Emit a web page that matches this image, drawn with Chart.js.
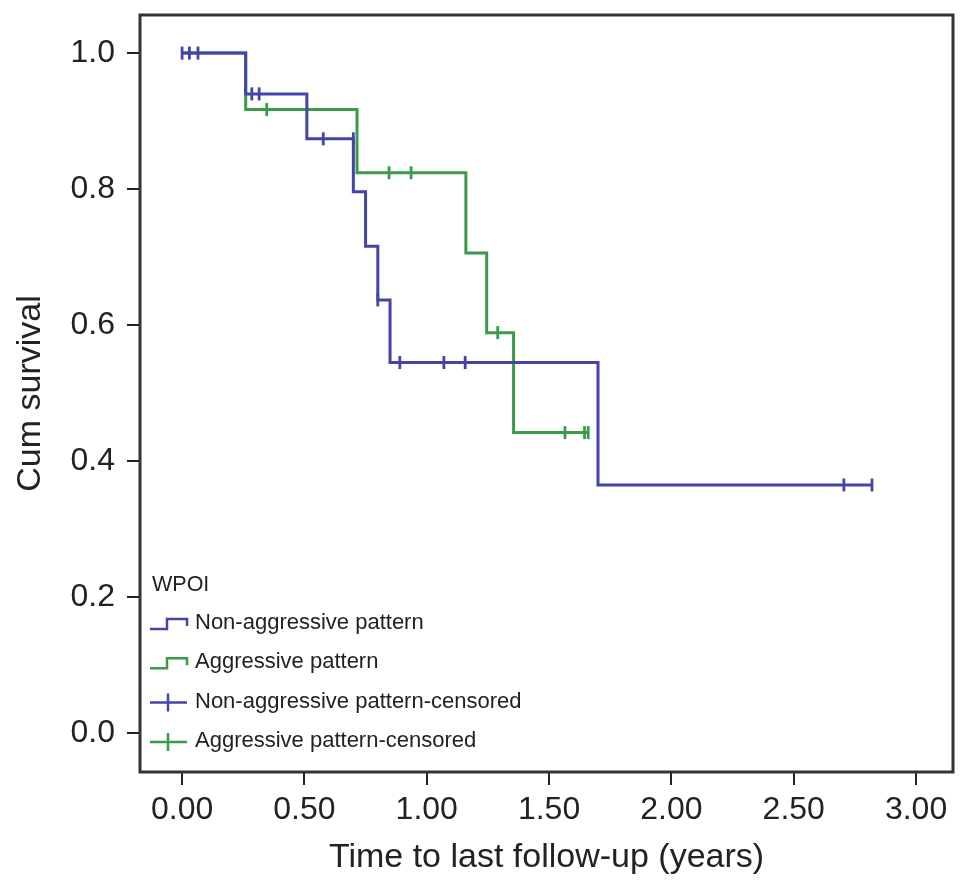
<!DOCTYPE html>
<html>
<head>
<meta charset="utf-8">
<script src="https://cdn.jsdelivr.net/npm/chart.js@4"></script>
<style>
  html, body { margin: 0; padding: 0; background: #fff; }
  #wrap { width: 969px; height: 888px; position: relative; }
</style>
</head>
<body>
<div id="wrap"><canvas id="kmChart"></canvas></div>
<script>
// Kaplan-Meier steps (time in years, cum survival)
const nonAggTimes = [0, 0.26, 0.51, 0.70, 0.75, 0.80, 0.85, 1.70, 2.82];
const nonAggSurv  = [1.0, 0.940, 0.874, 0.796, 0.716, 0.637, 0.545, 0.365, 0.365];
const aggTimes = [0, 0.26, 0.715, 1.16, 1.245, 1.355, 1.66];
const aggSurv  = [1.0, 0.917, 0.824, 0.706, 0.589, 0.442, 0.442];

// censored cases
const nonAggCensTimes = [0.00, 0.03, 0.065, 0.285, 0.315, 0.577, 0.70, 0.80, 0.89, 1.07, 1.157, 2.705, 2.82];
const nonAggCensSurv  = [1.0, 1.0, 1.0, 0.940, 0.940, 0.874, 0.874, 0.637, 0.545, 0.545, 0.545, 0.365, 0.365];
const aggCensTimes = [0.346, 0.846, 0.936, 1.29, 1.565, 1.645, 1.66];
const aggCensSurv  = [0.917, 0.824, 0.824, 0.589, 0.442, 0.442, 0.442];

const xTickValues = [0, 0.5, 1, 1.5, 2, 2.5, 3];
const yTickValues = [0, 0.2, 0.4, 0.6, 0.8, 1.0];

const legendTitle = 'WPOI';
const legendLabels = [
    'Non-aggressive pattern',
    'Aggressive pattern',
    'Non-aggressive pattern-censored',
    'Aggressive pattern-censored'
];

const blue = '#4343a8';
const green = '#3a9a4a';
const ink = '#222';
const font = 'Liberation Sans, Arial, Helvetica, sans-serif';

function toPoints(xs, ys) {
    return xs.map((x, i) => ({ x: x, y: ys[i] }));
}

// frame around plot + legend inside the plot area
const framePlugin = {
    id: 'frameAndLegend',
    afterDraw(chart) {
        const ctx = chart.ctx;
        const a = chart.chartArea;
        ctx.save();
        ctx.strokeStyle = '#333';
        ctx.lineWidth = 3;
        ctx.strokeRect(a.left, a.top, a.right - a.left, a.bottom - a.top);

        // legend
        const lx = a.left + 10;
        ctx.fillStyle = ink;
        ctx.font = '21.5px ' + font;
        ctx.textBaseline = 'middle';
        ctx.textAlign = 'left';
        ctx.fillText(legendTitle, a.left + 12, a.bottom - 187);

        ctx.font = '22px ' + font;
        const colors = [blue, green, blue, green];
        legendLabels.forEach((label, i) => {
            const y = a.bottom - 149 + i * 39.3;
            ctx.strokeStyle = colors[i];
            ctx.lineWidth = 2.5;
            ctx.beginPath();
            if (i < 2) {
                ctx.moveTo(lx, y + 6);
                ctx.lineTo(lx + 17, y + 6);
                ctx.lineTo(lx + 17, y - 4);
                ctx.lineTo(lx + 37, y - 4);
                ctx.lineTo(lx + 37, y + 3);
            } else {
                ctx.moveTo(lx, y + 1);
                ctx.lineTo(lx + 37, y + 1);
                ctx.moveTo(lx + 18, y - 8);
                ctx.lineTo(lx + 18, y + 10);
            }
            ctx.stroke();
            ctx.fillStyle = ink;
            ctx.fillText(label, lx + 45, y);
        });
        ctx.restore();
    }
};

new Chart(document.getElementById('kmChart'), {
    type: 'line',
    data: {
        datasets: [{
            label: legendLabels[0],
            data: toPoints(nonAggTimes, nonAggSurv),
            stepped: true,
            borderColor: blue,
            borderWidth: 3,
            pointRadius: 0,
            order: 1
        }, {
            label: legendLabels[1],
            data: toPoints(aggTimes, aggSurv),
            stepped: true,
            borderColor: green,
            borderWidth: 3,
            pointRadius: 0,
            order: 2
        }, {
            label: legendLabels[2],
            data: toPoints(nonAggCensTimes, nonAggCensSurv),
            showLine: false,
            pointStyle: 'line',
            rotation: 90,
            pointRadius: 6.5,
            pointBorderWidth: 2.8,
            borderColor: blue,
            order: 0
        }, {
            label: legendLabels[3],
            data: toPoints(aggCensTimes, aggCensSurv),
            showLine: false,
            pointStyle: 'line',
            rotation: 90,
            pointRadius: 6.5,
            pointBorderWidth: 2.8,
            borderColor: green,
            order: 1
        }]
    },
    options: {
        responsive: true,
        maintainAspectRatio: false,
        animation: false,
        layout: { padding: { top: 15, right: 16, left: 0, bottom: 0 } },
        plugins: {
            legend: { display: false },
            tooltip: { enabled: false }
        },
        scales: {
            x: {
                type: 'linear',
                min: -0.172,
                max: 3.151,
                afterBuildTicks: scale => { scale.ticks = xTickValues.map(v => ({ value: v })); },
                afterFit: scale => {
                    scale.height = 116;
                    scale.paddingLeft = 0;
                    scale.paddingRight = 0;
                },
                grid: { drawOnChartArea: false, drawTicks: true, tickLength: 13, color: ink, lineWidth: 2 },
                border: { display: false },
                ticks: {
                    color: ink,
                    padding: 6,
                    maxRotation: 0,
                    font: { family: font, size: 32 },
                    callback: v => v.toFixed(2)
                },
                title: {
                    display: true,
                    text: 'Time to last follow-up (years)',
                    color: ink,
                    font: { family: font, size: 34 },
                    padding: { top: 0, bottom: 10 }
                }
            },
            y: {
                type: 'linear',
                min: -0.057,
                max: 1.056,
                afterBuildTicks: scale => { scale.ticks = yTickValues.map(v => ({ value: v })); },
                afterFit: scale => {
                    scale.width = 140;
                    scale.paddingTop = 0;
                    scale.paddingBottom = 0;
                },
                grid: { drawOnChartArea: false, drawTicks: true, tickLength: 13, color: ink, lineWidth: 2 },
                border: { display: false },
                ticks: {
                    color: ink,
                    padding: 12,
                    font: { family: font, size: 32 },
                    callback: v => v.toFixed(1)
                },
                title: {
                    display: true,
                    text: 'Cum survival',
                    color: ink,
                    font: { family: font, size: 34 },
                    padding: { top: 10, bottom: 0 }
                }
            }
        }
    },
    plugins: [framePlugin]
});
</script>
</body>
</html>
